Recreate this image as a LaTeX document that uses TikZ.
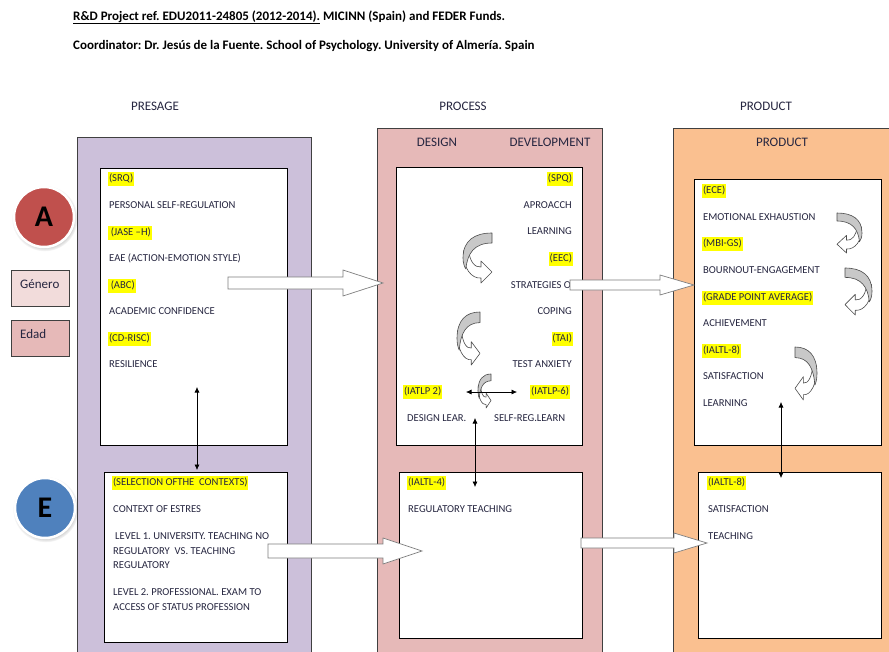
\documentclass[tikz,border=0pt]{standalone}
\usepackage{fontspec}
\setmainfont{Carlito}
\usetikzlibrary{calc,arrows.meta,shadows}
\frenchspacing

\definecolor{presagefill}{HTML}{CCC0DA}
\definecolor{processfill}{HTML}{E6B9B8}
\definecolor{productfill}{HTML}{FAC090}
\definecolor{framegray}{HTML}{404040}
\definecolor{ink}{HTML}{262640}
\definecolor{hlyellow}{HTML}{FFFF00}
\definecolor{aRed}{HTML}{C0504D}
\definecolor{eBlue}{HTML}{4F81BD}
\definecolor{generofill}{HTML}{F2DCDB}
\definecolor{edadfill}{HTML}{E6B9B8}
\definecolor{arrowgray}{HTML}{7F7F7F}
\definecolor{bandgray}{HTML}{C8C8C8}

% wide hollow arrow between two named points on one level
\newcommand\blockarrow[5]{%
  \draw[blockarrow] ($(#1)+(0,-#3)$) -- ($(#2)+(-#5,-#3)$) -- ($(#2)+(-#5,-#4)$)
    -- (#2) -- ($(#2)+(-#5,#4)$) -- ($(#2)+(-#5,#3)$) -- ($(#1)+(0,#3)$) -- cycle;}

\tikzset{
  panel/.style={draw=framegray, line width=0.8pt, anchor=north west, inner sep=0pt},
  whitebox/.style={draw=black, fill=white, line width=0.8pt, anchor=north west, inner sep=0pt},
  lbl/.style={anchor=west, inner sep=0pt, text=ink, font=\fontsize{10.6}{12}\selectfont,
    text height=7.6pt, text depth=2pt},
  lblr/.style={lbl, anchor=east},
  hl/.style={fill=hlyellow, inner xsep=0.8pt, inner ysep=2.4pt},
  coltitle/.style={anchor=base, inner sep=0pt, text=ink, font=\fontsize{13}{15}\selectfont},
  headline/.style={anchor=base west, inner sep=0pt, text=black, font=\bfseries\fontsize{13}{15}\selectfont},
  blockarrow/.style={draw=arrowgray, fill=white, line width=0.7pt, line join=miter},
  thinarrow/.style={draw=black, line width=0.6pt, {Latex[length=5.5pt,width=5pt]}-{Latex[length=5.5pt,width=5pt]}},
  tagbox/.style={draw=framegray, line width=0.8pt, anchor=north west, inner sep=0pt,
    minimum width=58pt, minimum height=36pt},
  tagtext/.style={anchor=base west, inner sep=0pt, text=ink, font=\fontsize{13}{15}\selectfont},
  badge/.style={circle, draw=white, line width=2.5pt, minimum size=60pt, inner sep=0pt,
    font=\bfseries\fontsize{30}{32}\selectfont, text=black,
    circular drop shadow={shadow xshift=0.6pt, shadow yshift=-1.2pt, opacity=0.35, fill=black!60}},
  bandline/.style={draw=black!70, line width=0.6pt, line join=round},
  bentarrow/.pic={
    \draw[bandline, fill=white] (0.02,0.35) .. controls (-0.02,0.7) and (0.3,0.92) .. (0.62,0.9)
      -- (0.62,1) -- (1,0.78) -- (0.62,0.56) -- (0.62,0.68)
      .. controls (0.4,0.7) and (0.22,0.55) .. (0.2,0.35) -- cycle;
    \draw[bandline, fill=bandgray] (1,0) .. controls (0.4,0) and (0,0.15) .. (0,0.5)
      .. controls (0,0.6) and (0.05,0.68) .. (0.1,0.72)
      .. controls (0.15,0.4) and (0.4,0.2) .. (1,0.2) -- cycle;
  }
}

\begin{document}
\begin{tikzpicture}[x=1pt,y=-1pt]
\clip (0,0) rectangle (889,651);
\fill[white] (0,0) rectangle (889,651);

% header
\node[headline] (title) at (73,20) {\underline{R\&D Project ref. EDU2011-24805 (2012-2014).} MICINN (Spain) and FEDER Funds.};
\node[headline] (coord) at (73,49) {Coordinator: Dr. Jesús de la Fuente. School of Psychology. University of Almería. Spain};

% column titles
\node[coltitle] (tPresage) at (155,110) {PRESAGE};
\node[coltitle] (tProcess) at (463,110) {PROCESS};
\node[coltitle] (tProduct) at (766,110) {PRODUCT};

% outer panels
\node[panel, fill=presagefill, minimum width=234pt, minimum height=560pt] (presage) at (77,137) {};
\node[panel, fill=processfill, minimum width=225pt, minimum height=560pt] (process) at (377,128) {};
\node[panel, fill=productfill, minimum width=260pt, minimum height=560pt] (product) at (673,128) {};

\node[coltitle] (hDesign) at (437,146) {DESIGN};
\node[coltitle] (hDevel) at (550,146) {DEVELOPMENT};
\node[coltitle] (hProduct) at (782,146) {PRODUCT};

% inner boxes
\node[whitebox, minimum width=187pt, minimum height=277pt] (presTop) at (100,168) {};
\node[whitebox, minimum width=183pt, minimum height=170pt] (presBot) at (104,472) {};
\node[whitebox, minimum width=186pt, minimum height=278pt] (procTop) at (396,167) {};
\node[whitebox, minimum width=183pt, minimum height=166pt] (procBot) at (399,472) {};
\node[whitebox, minimum width=187pt, minimum height=266pt] (prodTop) at (694,179) {};
\node[whitebox, minimum width=183pt, minimum height=166pt] (prodBot) at (698,472) {};

% badges and side tags
\node[badge, fill=aRed] (circA) at (44,217) {A};
\node[badge, fill=eBlue] (circE) at (45,508) {E};
\node[tagbox, fill=generofill] (genero) at (11,270) {};
\node[tagtext] (generoT) at (20,288) {Género};
\node[tagbox, fill=edadfill] (edad) at (11,320) {};
\node[tagtext] (edadT) at (20,338) {Edad};

% presage, upper box
\node[lbl, hl] (srq) at (108,179) {(SRQ)};
\node[lbl] (psr) at (109,206) {PERSONAL SELF-REGULATION};
\node[lbl, hl] (jase) at (108,233) {\,(JASE --H)};
\node[lbl] (eae) at (109,259) {EAE (ACTION-EMOTION STYLE)};
\node[lbl, hl] (abc) at (108,286) {\,(ABC)};
\node[lbl] (acc) at (109,312) {ACADEMIC CONFIDENCE};
\node[lbl, hl] (cdr) at (108,339) {(CD-RISC)};
\node[lbl] (res) at (109,365) {RESILIENCE};

% presage, lower box
\node[lbl, hl] (sel) at (112,483) {(SELECTION OFTHE\ \ CONTEXTS)};
\node[lbl] (ctx) at (113,510) {CONTEXT OF ESTRES};
\node[lbl] (lv1a) at (115,537) {LEVEL 1. UNIVERSITY. TEACHING NO};
\node[lbl] (lv1b) at (113,552) {REGULATORY\ \ VS. TEACHING};
\node[lbl] (lv1c) at (113,566) {REGULATORY};
\node[lbl] (lv2a) at (113,593) {LEVEL 2. PROFESSIONAL. EXAM TO};
\node[lbl] (lv2b) at (113,608) {ACCESS OF STATUS PROFESSION};

% process, upper box
\node[lblr, hl] (spq) at (573,179) {(SPQ)};
\node[lblr] (apr) at (572,206) {APROACCH};
\node[lblr] (lrn) at (572,232) {LEARNING};
\node[lblr, hl] (eec) at (573,259) {(EEC)};
\node[lblr] (stc) at (576,286) {STRATEGIES OF};
\node[lblr] (cop) at (572,312) {COPING};
\node[lblr, hl] (tai) at (573,339) {(TAI)};
\node[lblr] (tax) at (572,365) {TEST ANXIETY};
\node[lbl, hl] (iat2) at (403,392) {(IATLP 2)};
\node[lblr, hl] (iat6) at (570,392) {(IATLP-6)};
\node[lbl] (dsl) at (407,419) {DESIGN LEAR.};
\node[lbl] (srl) at (494,419) {SELF-REG.LEARN};

% process, lower box
\node[lbl, hl] (ia4) at (407,483) {(IALTL-4)};
\node[lbl] (rgt) at (408,510) {REGULATORY TEACHING};

% product, upper box
\node[lbl, hl] (ece) at (702,191) {(ECE)};
\node[lbl] (emx) at (703,218) {EMOTIONAL EXHAUSTION};
\node[lbl, hl] (mbi) at (702,244) {(MBI-GS)};
\node[lbl] (boe) at (703,271) {BOURNOUT-ENGAGEMENT};
\node[lbl, hl] (gpa) at (702,298) {(GRADE POINT AVERAGE)};
\node[lbl] (ach) at (703,324) {ACHIEVEMENT};
\node[lbl, hl] (ia8) at (702,351) {(IALTL-8)};
\node[lbl] (sat) at (703,377) {SATISFACTION};
\node[lbl] (lea) at (703,404) {LEARNING};

% product, lower box
\node[lbl, hl] (ia8b) at (707,483) {(IALTL-8)};
\node[lbl] (satb) at (708,510) {SATISFACTION};
\node[lbl] (tch) at (708,537) {TEACHING};

% bent arrows
\pic[xscale=29, yscale=50] at (463,233) {bentarrow};
\pic[xscale=23, yscale=53] at (457,312) {bentarrow};
\pic[xscale=13, yscale=34] at (478,374) {bentarrow};
\pic[xscale=-25, yscale=40] at (862,213) {bentarrow};
\pic[xscale=-27, yscale=47] at (872,268) {bentarrow};
\pic[xscale=-22, yscale=53] at (817,347) {bentarrow};

% hollow arrows between the columns
\coordinate (a1s) at (228,283);  \coordinate (a1e) at (383,283);
\coordinate (a2s) at (570,285);  \coordinate (a2e) at (694,285);
\coordinate (a3s) at (268,551);  \coordinate (a3e) at (422,551);
\coordinate (a4s) at (581,543);  \coordinate (a4e) at (707,543);
\blockarrow{a1s}{a1e}{6}{13}{40}
\blockarrow{a2s}{a2e}{5}{10}{34}
\blockarrow{a3s}{a3e}{7}{13}{39}
\blockarrow{a4s}{a4e}{5}{10}{33}

% thin two-way links
\coordinate (v1t) at (197,387);  \coordinate (v1b) at (197,470);
\coordinate (v2t) at (475,418);  \coordinate (v2b) at (475,487);
\coordinate (v3t) at (781,402);  \coordinate (v3b) at (781,478);
\coordinate (h1l) at (466,392);  \coordinate (h1r) at (517,392);
\draw[thinarrow] (v1t) -- (v1b);
\draw[thinarrow] (v2t) -- (v2b);
\draw[thinarrow] (v3t) -- (v3b);
\draw[thinarrow] (h1l) -- (h1r);
\end{tikzpicture}
\end{document}
